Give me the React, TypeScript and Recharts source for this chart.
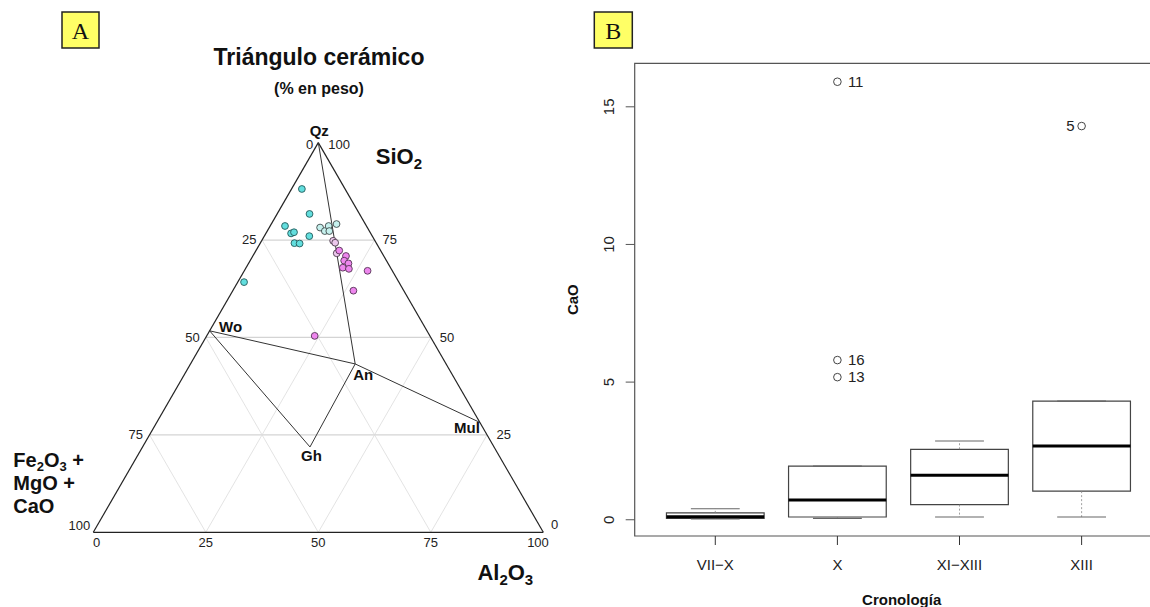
import React from 'react';
import { ScatterChart, ComposedChart, Scatter, XAxis, YAxis, ReferenceLine, ReferenceArea } from 'recharts';

const FONT = '"Liberation Sans", Arial, Helvetica, sans-serif';

// ---------- Panel A: ternary data [SiO2, Al2O3, Fe2O3+MgO+CaO] (% en peso) ----------
const grupoTurquesa = [
  [88.1, 2.3, 9.6], [81.7, 7.2, 11.1], [78.6, 3.3, 18.1], [76.7, 5.6, 17.7], [77.0, 6.1, 16.9],
  [76.0, 10.0, 14.0], [74.2, 7.6, 18.2], [74.1, 8.8, 17.1], [64.2, 1.4, 34.4],
];
const grupoCianClaro = [
  [78.2, 11.3, 10.5], [77.3, 12.8, 9.9], [78.6, 13.0, 8.4], [77.3, 13.8, 8.9], [79.1, 14.5, 6.4],
];
const grupoLavanda = [
  [74.8, 15.9, 9.3], [74.3, 16.6, 9.1], [71.6, 18.3, 10.1],
];
const grupoMagenta = [
  [72.3, 18.5, 9.2], [70.9, 20.7, 8.4], [69.7, 20.9, 9.4], [69.0, 22.2, 8.8], [67.9, 21.5, 10.6],
  [67.6, 23.0, 9.4], [67.1, 27.4, 5.5], [62.0, 26.8, 11.2], [50.4, 24.0, 25.6],
];

const minerales = ['Qz', 'Wo', 'An', 'Mul', 'Gh'];
const composicionMineral: Record<string, number[]> = {
  Qz: [100, 0, 0],
  Wo: [51.7, 0, 48.3],
  An: [43.2, 36.6, 20.2],
  Mul: [28.2, 71.8, 0],
  Gh: [21.9, 37.2, 40.9],
};
const uniones = [['Qz', 'An'], ['Wo', 'An'], ['An', 'Mul'], ['Wo', 'Gh'], ['Gh', 'An']];
const marcas = [0, 25, 50, 75, 100];
const lineasRejilla = [25, 50, 75];

// ---------- Panel B: boxplot CaO por cronología ----------
const cronologia = ['VII\u2212X', 'X', 'XI\u2212XIII', 'XIII'];
const bigoteInf = [0.03, 0.05, 0.1, 0.1];
const cuartil1 = [0.05, 0.1, 0.55, 1.04];
const mediana = [0.11, 0.72, 1.62, 2.68];
const cuartil3 = [0.25, 1.95, 2.56, 4.31];
const bigoteSup = [0.4, 1.95, 2.86, 4.31];
const atipicoGrupo = [2, 2, 2, 4];
const atipicoValor = [15.91, 5.8, 5.18, 14.3];
const atipicoId = ['11', '16', '13', '5'];
const ticksCaO = [0, 5, 10, 15];

// ---------- helpers ----------
const toXY = (c: number[]) => {
  const s = c[0] + c[1] + c[2];
  const si = (c[0] / s) * 100;
  const al = (c[1] / s) * 100;
  return { x: al + si / 2, y: si };
};

// label style table (offsets in px relative to the projected point)
type Off = { dx: number; dy: number; anchor: 'start' | 'middle' | 'end'; bold?: boolean; size?: number };
const estiloEtiqueta: Record<string, Off> = {
  'si-100': { dx: 10, dy: 6.7, anchor: 'start' },
  'si-75': { dx: 8, dy: 4.3, anchor: 'start' },
  'si-50': { dx: 9, dy: 4.3, anchor: 'start' },
  'si-25': { dx: 9.4, dy: 4.5, anchor: 'start' },
  'si-0': { dx: 7.7, dy: -3, anchor: 'start' },
  'fe-0': { dx: -5, dy: 6.7, anchor: 'end' },
  'fe-25': { dx: -5.5, dy: 4.3, anchor: 'end' },
  'fe-50': { dx: -6, dy: 4.3, anchor: 'end' },
  'fe-75': { dx: -6.5, dy: 4.5, anchor: 'end' },
  'fe-100': { dx: -3, dy: -2.5, anchor: 'end' },
  'al-0': { dx: 3.4, dy: 14.7, anchor: 'middle' },
  'al-25': { dx: 0, dy: 14.7, anchor: 'middle' },
  'al-50': { dx: 0, dy: 14.7, anchor: 'middle' },
  'al-75': { dx: 0, dy: 14.7, anchor: 'middle' },
  'al-100': { dx: -5.3, dy: 14.7, anchor: 'middle' },
  'min-Qz': { dx: 1, dy: -7, anchor: 'middle', bold: true, size: 15 },
  'min-Wo': { dx: 9.4, dy: 1, anchor: 'start', bold: true, size: 15 },
  'min-An': { dx: -2, dy: 16, anchor: 'start', bold: true, size: 15 },
  'min-Mul': { dx: 0, dy: 11, anchor: 'end', bold: true, size: 15 },
  'min-Gh': { dx: 1.5, dy: 14, anchor: 'middle', bold: true, size: 15 },
};

const etiquetasTernario = [
  ...marcas.map((v) => ({ ...toXY([v, 100 - v, 0]), texto: String(v), clave: 'si-' + v })),
  ...marcas.map((v) => ({ ...toXY([100 - v, 0, v]), texto: String(v), clave: 'fe-' + v })),
  ...marcas.map((v) => ({ ...toXY([0, v, 100 - v]), texto: String(v), clave: 'al-' + v })),
  ...minerales.map((m) => ({ ...toXY(composicionMineral[m]), texto: m, clave: 'min-' + m })),
];

const TextoEtiqueta = (props: any) => {
  const { cx, cy, payload } = props;
  const o = estiloEtiqueta[payload.clave];
  return (
    <text
      x={cx + o.dx}
      y={cy + o.dy}
      textAnchor={o.anchor}
      fontFamily={FONT}
      fontSize={o.size ?? 13}
      fontWeight={o.bold ? 700 : 400}
      fill={o.bold ? '#111' : '#222'}
    >
      {payload.texto}
    </text>
  );
};

const punto = (fill: string, stroke: string) => (props: any) => (
  <circle cx={props.cx} cy={props.cy} r={3.4} fill={fill} stroke={stroke} strokeWidth={0.9} />
);

const segmentosRejilla = lineasRejilla.flatMap((v) => [
  { tipo: 'h', a: toXY([v, 0, 100 - v]), b: toXY([v, 100 - v, 0]) },
  { tipo: 'd', a: toXY([100 - v, v, 0]), b: toXY([0, v, 100 - v]) },
  { tipo: 'd', a: toXY([100 - v, 0, v]), b: toXY([0, 100 - v, v]) },
]);

const contorno = [
  [toXY([0, 0, 100]), toXY([0, 100, 0])],
  [toXY([0, 0, 100]), toXY([100, 0, 0])],
  [toXY([100, 0, 0]), toXY([0, 100, 0])],
];

const PanelA = () => (
  <ScatterChart width={560} height={607} margin={{ top: 142.6, right: 16.7, bottom: 74.7, left: 93.3 }}>
    <XAxis type="number" dataKey="x" domain={[0, 100]} hide />
    <YAxis type="number" dataKey="y" domain={[0, 100]} hide />
    {segmentosRejilla.map((s, i) => (
      <ReferenceLine
        key={'g' + i}
        segment={[s.a, s.b]}
        stroke={s.tipo === 'h' ? '#d4d4d4' : '#dcdcdc'}
        strokeWidth={s.tipo === 'h' ? 1.3 : 0.8}
        ifOverflow="visible"
      />
    ))}
    {contorno.map((s, i) => (
      <ReferenceLine key={'c' + i} segment={s} stroke="#222" strokeWidth={1.2} ifOverflow="visible" />
    ))}
    {uniones.map(([a, b], i) => (
      <ReferenceLine
        key={'u' + i}
        segment={[toXY(composicionMineral[a]), toXY(composicionMineral[b])]}
        stroke="#333"
        strokeWidth={1}
        ifOverflow="visible"
      />
    ))}
    <Scatter data={grupoTurquesa.map(toXY)} shape={punto('#62dede', '#245a5a')} isAnimationActive={false} />
    <Scatter data={grupoCianClaro.map(toXY)} shape={punto('#c6f1ee', '#3e4a4a')} isAnimationActive={false} />
    <Scatter data={grupoLavanda.map(toXY)} shape={punto('#ecc8ec', '#4a3a4a')} isAnimationActive={false} />
    <Scatter data={grupoMagenta.map(toXY)} shape={punto('#ee86ee', '#553355')} isAnimationActive={false} />
    <Scatter data={etiquetasTernario} shape={TextoEtiqueta} isAnimationActive={false} />
  </ScatterChart>
);

// ---------- Panel B ----------
const datosAtipicos = atipicoId.map((id, i) => ({ x: atipicoGrupo[i], y: atipicoValor[i], id }));
const etiquetaIzquierda: Record<string, boolean> = { '5': true };

const Atipico = (props: any) => {
  const { cx, cy, payload } = props;
  const izq = etiquetaIzquierda[payload.id];
  return (
    <g>
      <circle cx={cx} cy={cy} r={3.8} fill="none" stroke="#444" strokeWidth={1} />
      <text
        x={izq ? cx - 7 : cx + 10.5}
        y={cy + 5}
        textAnchor={izq ? 'end' : 'start'}
        fontFamily={FONT}
        fontSize={15}
        fill="#222"
      >
        {payload.id}
      </text>
    </g>
  );
};

const TickX = (props: any) => {
  const { x, y, payload } = props;
  return (
    <text x={x} y={y + 23} textAnchor="middle" fontFamily={FONT} fontSize={15} fill="#222">
      {cronologia[payload.value - 1]}
    </text>
  );
};

const TickY = (props: any) => {
  const { x, y, payload } = props;
  return (
    <text
      x={x}
      y={y}
      transform={`rotate(-90 ${x} ${y})`}
      textAnchor="middle"
      fontFamily={FONT}
      fontSize={15}
      fill="#222"
    >
      {payload.value}
    </text>
  );
};

const X_MIN = 0.34;
const X_MAX = 4.66;
const Y_MIN = -0.59;
const Y_MAX = 16.58;

const PanelB = () => (
  <ComposedChart width={620} height={607} margin={{ top: 63.3, right: 17.8, bottom: 0, left: 0 }}>
    <XAxis
      type="number"
      dataKey="x"
      domain={[X_MIN, X_MAX]}
      ticks={[1, 2, 3, 4]}
      interval={0}
      height={71}
      tickSize={9}
      tickMargin={2}
      axisLine={false}
      tickLine={{ stroke: '#333' }}
      tick={TickX}
    />
    <YAxis
      type="number"
      dataKey="y"
      domain={[Y_MIN, Y_MAX]}
      ticks={ticksCaO}
      interval={0}
      width={74.7}
      tickSize={9}
      tickMargin={11.7}
      axisLine={false}
      tickLine={{ stroke: '#555' }}
      tick={TickY}
    />
    <ReferenceArea
      x1={X_MIN}
      x2={X_MAX}
      y1={Y_MIN}
      y2={Y_MAX}
      fill="none"
      fillOpacity={0}
      stroke="#555"
      strokeWidth={1.2}
      ifOverflow="visible"
    />
    {cronologia.map((c, i) => {
      const g = i + 1;
      return (
        <React.Fragment key={c}>
          <ReferenceLine
            segment={[{ x: g, y: cuartil3[i] }, { x: g, y: bigoteSup[i] }]}
            stroke="#888"
            strokeWidth={0.8}
            strokeDasharray="2 2"
            ifOverflow="visible"
          />
          <ReferenceLine
            segment={[{ x: g, y: cuartil1[i] }, { x: g, y: bigoteInf[i] }]}
            stroke="#888"
            strokeWidth={0.8}
            strokeDasharray="2 2"
            ifOverflow="visible"
          />
          <ReferenceLine
            segment={[{ x: g - 0.2, y: bigoteSup[i] }, { x: g + 0.2, y: bigoteSup[i] }]}
            stroke="#666"
            strokeWidth={1.2}
            ifOverflow="visible"
          />
          <ReferenceLine
            segment={[{ x: g - 0.2, y: bigoteInf[i] }, { x: g + 0.2, y: bigoteInf[i] }]}
            stroke="#666"
            strokeWidth={1.2}
            ifOverflow="visible"
          />
          <ReferenceArea
            x1={g - 0.4}
            x2={g + 0.4}
            y1={cuartil1[i]}
            y2={cuartil3[i]}
            fill="#fff"
            fillOpacity={1}
            stroke="#444"
            strokeWidth={1.2}
            ifOverflow="visible"
          />
          <ReferenceLine
            segment={[{ x: g - 0.4, y: mediana[i] }, { x: g + 0.4, y: mediana[i] }]}
            stroke="#000"
            strokeWidth={3}
            ifOverflow="visible"
          />
        </React.Fragment>
      );
    })}
    <Scatter data={datosAtipicos} shape={Atipico} isAnimationActive={false} />
  </ComposedChart>
);

export default function App() {
  return (
    <div
      style={{
        position: 'absolute',
        left: 0,
        top: 0,
        width: 1150,
        height: 607,
        overflow: 'hidden',
        background: '#fff',
        fontFamily: FONT,
      }}
    >
      <div style={{ position: 'absolute', left: 0, top: 0 }}>
        <PanelA />
      </div>
      <div style={{ position: 'absolute', left: 560, top: 0 }}>
        <PanelB />
      </div>
      <svg
        width={1150}
        height={607}
        style={{ position: 'absolute', left: 0, top: 0, pointerEvents: 'none' }}
      >
        <rect x={62} y={12} width={37} height={36} fill="#ffff66" stroke="#222" strokeWidth={1.5} />
        <text x={80.5} y={39.3} textAnchor="middle" fontFamily='"Liberation Serif", "Times New Roman", serif' fontSize={24} fill="#111">
          A
        </text>
        <rect x={594.3} y={12} width={38} height={36} fill="#ffff66" stroke="#222" strokeWidth={1.5} />
        <text x={613.3} y={39.3} textAnchor="middle" fontFamily='"Liberation Serif", "Times New Roman", serif' fontSize={24} fill="#111">
          B
        </text>

        <text x={319} y={65} textAnchor="middle" fontFamily={FONT} fontWeight={700} fontSize={23} fill="#111">
          Triángulo cerámico
        </text>
        <text x={319} y={94} textAnchor="middle" fontFamily={FONT} fontWeight={700} fontSize={16} fill="#111">
          (% en peso)
        </text>

        <text x={375.8} y={163.5} fontFamily={FONT} fontWeight={700} fontSize={22} fill="#111">
          SiO<tspan fontSize={15} dy={5}>2</tspan>
        </text>
        <text x={13.3} y={467} fontFamily={FONT} fontWeight={700} fontSize={20} fill="#111">
          Fe<tspan fontSize={13} dy={4}>2</tspan><tspan dy={-4}>O</tspan><tspan fontSize={13} dy={4}>3</tspan><tspan dy={-4}> +</tspan>
        </text>
        <text x={13.3} y={490} fontFamily={FONT} fontWeight={700} fontSize={20} fill="#111">
          MgO +
        </text>
        <text x={13.3} y={513} fontFamily={FONT} fontWeight={700} fontSize={20} fill="#111">
          CaO
        </text>
        <text x={477.4} y={580} fontFamily={FONT} fontWeight={700} fontSize={22} fill="#111">
          Al<tspan fontSize={15} dy={5}>2</tspan><tspan dy={-5}>O</tspan><tspan fontSize={15} dy={5}>3</tspan>
        </text>

        <text
          x={578}
          y={299.7}
          transform="rotate(-90 578 299.7)"
          textAnchor="middle"
          fontFamily={FONT}
          fontWeight={700}
          fontSize={15}
          fill="#111"
        >
          CaO
        </text>
        <text x={901.7} y={605} textAnchor="middle" fontFamily={FONT} fontWeight={700} fontSize={15} fill="#111">
          Cronología
        </text>
      </svg>
    </div>
  );
}
